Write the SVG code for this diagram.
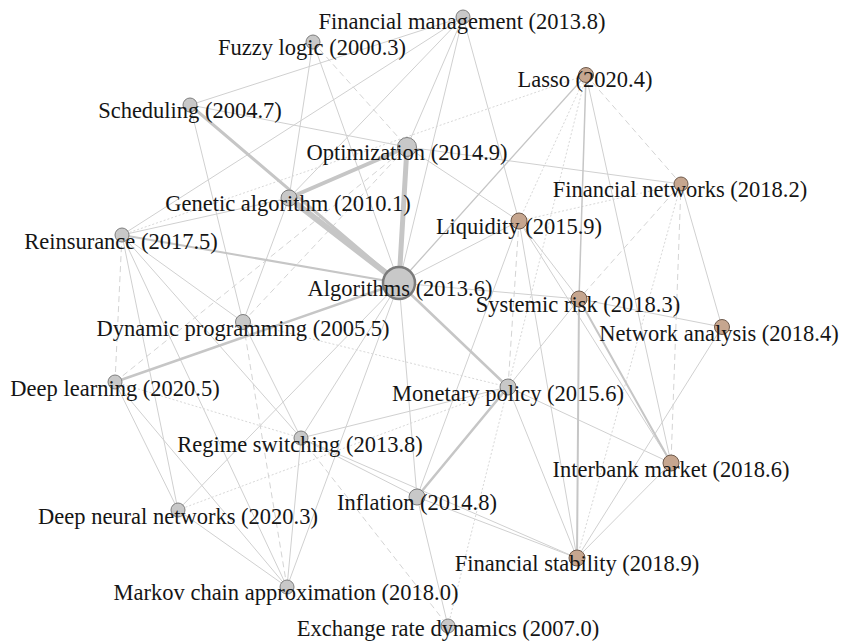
<svg xmlns="http://www.w3.org/2000/svg" width="842" height="642" viewBox="0 0 842 642">
<style>
  .bg{fill:#ffffff}
  .t{stroke:#c6c6c6;fill:none;stroke-linecap:round}
  .e{stroke:#d0d0d0;stroke-width:1;fill:none}
  .d{stroke:#d4d4d4;stroke-width:1;fill:none;stroke-dasharray:6 4}
  .o{stroke:#d8d8d8;stroke-width:1;fill:none;stroke-dasharray:2 2}
  .g{fill:#c8c8c8;stroke:#7e7e7e;stroke-width:1}
  .b{fill:#c6a68f;stroke:#6e5a4c;stroke-width:1}
  text{font-family:"Liberation Serif","Times New Roman",serif;font-size:22.5px;fill:#151515;text-anchor:middle}
</style>
<rect class="bg" x="0" y="0" width="842" height="642"/>
<g id="connectors">
  <line class="e" x1="190" y1="105" x2="463" y2="17"/>
  <line class="e" x1="190" y1="105" x2="407" y2="147"/>
  <line class="e" x1="190" y1="105" x2="243" y2="322"/>
  <line class="e" x1="463" y1="17" x2="289" y2="198"/>
  <line class="e" x1="463" y1="17" x2="407" y2="147"/>
  <line class="e" x1="463" y1="17" x2="519" y2="221"/>
  <line class="e" x1="463" y1="17" x2="399" y2="283"/>
  <line class="e" x1="122" y1="235" x2="463" y2="17"/>
  <line class="e" x1="313" y1="42" x2="289" y2="198"/>
  <line class="e" x1="313" y1="42" x2="399" y2="283"/>
  <line class="e" x1="407" y1="147" x2="681" y2="184"/>
  <line class="e" x1="407" y1="147" x2="519" y2="221"/>
  <line class="e" x1="289" y1="198" x2="122" y2="235"/>
  <line class="e" x1="289" y1="198" x2="243" y2="322"/>
  <line class="e" x1="586" y1="75" x2="671" y2="463"/>
  <line class="e" x1="681" y1="184" x2="722" y2="327"/>
  <line class="e" x1="579" y1="299" x2="399" y2="283"/>
  <line class="e" x1="579" y1="299" x2="519" y2="221"/>
  <line class="e" x1="579" y1="299" x2="508" y2="387"/>
  <line class="e" x1="579" y1="299" x2="722" y2="327"/>
  <line class="e" x1="519" y1="221" x2="399" y2="283"/>
  <line class="e" x1="519" y1="221" x2="577" y2="558"/>
  <line class="e" x1="519" y1="221" x2="671" y2="463"/>
  <line class="e" x1="519" y1="221" x2="417" y2="497"/>
  <line class="e" x1="722" y1="327" x2="577" y2="558"/>
  <line class="e" x1="508" y1="387" x2="671" y2="463"/>
  <line class="e" x1="508" y1="387" x2="577" y2="558"/>
  <line class="e" x1="508" y1="387" x2="301" y2="438"/>
  <line class="e" x1="671" y1="463" x2="577" y2="558"/>
  <line class="e" x1="577" y1="558" x2="417" y2="497"/>
  <line class="e" x1="577" y1="558" x2="301" y2="438"/>
  <line class="e" x1="417" y1="497" x2="301" y2="438"/>
  <line class="e" x1="417" y1="497" x2="448" y2="626"/>
  <line class="e" x1="417" y1="497" x2="399" y2="283"/>
  <line class="e" x1="301" y1="438" x2="287" y2="587"/>
  <line class="e" x1="301" y1="438" x2="122" y2="235"/>
  <line class="e" x1="301" y1="438" x2="399" y2="283"/>
  <line class="e" x1="178" y1="510" x2="115" y2="382"/>
  <line class="e" x1="178" y1="510" x2="287" y2="587"/>
  <line class="e" x1="178" y1="510" x2="122" y2="235"/>
  <line class="e" x1="178" y1="510" x2="399" y2="283"/>
  <line class="e" x1="122" y1="235" x2="287" y2="587"/>
  <line class="e" x1="122" y1="235" x2="243" y2="322"/>
  <line class="e" x1="287" y1="587" x2="115" y2="382"/>
  <line class="e" x1="287" y1="587" x2="399" y2="283"/>
  <line class="e" x1="243" y1="322" x2="301" y2="438"/>
  <line class="d" x1="313" y1="42" x2="407" y2="147"/>
  <line class="d" x1="586" y1="75" x2="681" y2="184"/>
  <line class="d" x1="681" y1="184" x2="579" y2="299"/>
  <line class="d" x1="681" y1="184" x2="671" y2="463"/>
  <line class="d" x1="519" y1="221" x2="508" y2="387"/>
  <line class="d" x1="115" y1="382" x2="122" y2="235"/>
  <line class="d" x1="115" y1="382" x2="407" y2="147"/>
  <line class="d" x1="243" y1="322" x2="407" y2="147"/>
  <line class="d" x1="287" y1="587" x2="243" y2="322"/>
  <line class="d" x1="301" y1="438" x2="448" y2="626"/>
  <line class="o" x1="122" y1="235" x2="586" y2="75"/>
  <line class="o" x1="586" y1="75" x2="508" y2="387"/>
  <line class="o" x1="586" y1="75" x2="519" y2="221"/>
  <line class="o" x1="681" y1="184" x2="519" y2="221"/>
  <line class="o" x1="681" y1="184" x2="577" y2="558"/>
  <line class="o" x1="243" y1="322" x2="508" y2="387"/>
  <line class="o" x1="115" y1="382" x2="301" y2="438"/>
  <line class="o" x1="178" y1="510" x2="508" y2="387"/>
  <line class="o" x1="508" y1="387" x2="448" y2="626"/>
  <line class="t" x1="586" y1="75" x2="399" y2="283" stroke-width="1.3"/>
  <line class="t" x1="586" y1="75" x2="579" y2="299" stroke-width="1.5"/>
  <line class="t" x1="579" y1="299" x2="671" y2="463" stroke-width="2"/>
  <line class="t" x1="579" y1="299" x2="577" y2="558" stroke-width="2"/>
  <line class="t" x1="508" y1="387" x2="417" y2="497" stroke-width="2.5"/>
  <line class="t" x1="399" y1="283" x2="508" y2="387" stroke-width="2.5"/>
  <line class="t" x1="122" y1="235" x2="399" y2="283" stroke-width="2"/>
  <line class="t" x1="115" y1="382" x2="399" y2="283" stroke-width="2.5"/>
  <line class="t" x1="190" y1="105" x2="399" y2="283" stroke-width="3"/>
  <line class="t" x1="289" y1="198" x2="407" y2="147" stroke-width="4"/>
  <line class="t" x1="407" y1="147" x2="399" y2="283" stroke-width="5"/>
  <line class="t" x1="289" y1="198" x2="399" y2="283" stroke-width="6"/>
</g>
<g id="n-financial-management"><circle class="g" cx="463" cy="17" r="7"/><text x="462" y="29">Financial management (2013.8)</text></g>
<g id="n-fuzzy-logic"><circle class="g" cx="313" cy="42" r="7"/><text x="312" y="55">Fuzzy logic (2000.3)</text></g>
<g id="n-lasso"><circle class="b" cx="586" cy="75" r="7.5"/><text x="585" y="87">Lasso (2020.4)</text></g>
<g id="n-scheduling"><circle class="g" cx="190" cy="105" r="7"/><text x="190" y="118">Scheduling (2004.7)</text></g>
<g id="n-optimization"><circle class="g" cx="407" cy="147" r="9.5"/><text x="407" y="160">Optimization (2014.9)</text></g>
<g id="n-financial-networks"><circle class="b" cx="681" cy="184" r="7"/><text x="680" y="197">Financial networks (2018.2)</text></g>
<g id="n-genetic-algorithm"><circle class="g" cx="289" cy="198" r="8"/><text x="288" y="211">Genetic algorithm (2010.1)</text></g>
<g id="n-liquidity"><circle class="b" cx="519" cy="221" r="8"/><text x="519" y="234">Liquidity (2015.9)</text></g>
<g id="n-reinsurance"><circle class="g" cx="122" cy="235" r="7"/><text x="121" y="249">Reinsurance (2017.5)</text></g>
<g id="n-algorithms"><circle cx="399" cy="283" r="16" fill="#c8c8c8" stroke="#7a7a7a" stroke-width="2.5"/><text x="400" y="296">Algorithms (2013.6)</text></g>
<g id="n-systemic-risk"><circle class="b" cx="579" cy="299" r="8"/><text x="578" y="312">Systemic risk (2018.3)</text></g>
<g id="n-dynamic-programming"><circle class="g" cx="243" cy="322" r="7.5"/><text x="243" y="336">Dynamic programming (2005.5)</text></g>
<g id="n-network-analysis"><circle class="b" cx="722" cy="327" r="7.5"/><text x="719" y="341">Network analysis (2018.4)</text></g>
<g id="n-deep-learning"><circle class="g" cx="115" cy="382" r="7"/><text x="115" y="396">Deep learning (2020.5)</text></g>
<g id="n-monetary-policy"><circle class="g" cx="508" cy="387" r="8"/><text x="508" y="401">Monetary policy (2015.6)</text></g>
<g id="n-regime-switching"><circle class="g" cx="301" cy="438" r="7"/><text x="300" y="452">Regime switching (2013.8)</text></g>
<g id="n-interbank-market"><circle class="b" cx="671" cy="463" r="8"/><text x="671" y="477">Interbank market (2018.6)</text></g>
<g id="n-inflation"><circle class="g" cx="417" cy="497" r="8"/><text x="417" y="510">Inflation (2014.8)</text></g>
<g id="n-deep-neural-networks"><circle class="g" cx="178" cy="510" r="7"/><text x="178" y="524">Deep neural networks (2020.3)</text></g>
<g id="n-financial-stability"><circle class="b" cx="577" cy="558" r="8"/><text x="577" y="571">Financial stability (2018.9)</text></g>
<g id="n-markov-chain-approximation"><circle class="g" cx="287" cy="587" r="7"/><text x="286" y="600">Markov chain approximation (2018.0)</text></g>
<g id="n-exchange-rate-dynamics"><circle class="g" cx="448" cy="626" r="7"/><text x="448" y="636">Exchange rate dynamics (2007.0)</text></g>
</svg>
